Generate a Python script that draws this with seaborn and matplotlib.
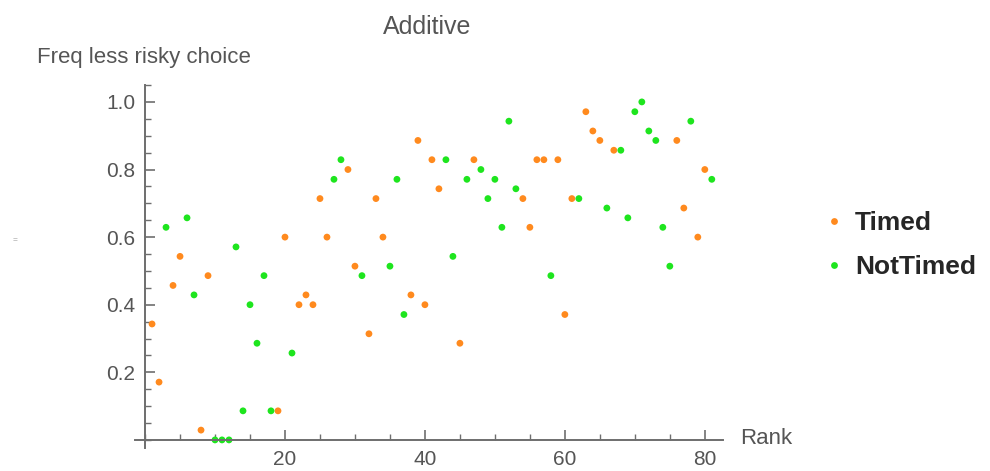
import numpy as np
import pandas as pd
import seaborn as sns
import matplotlib.pyplot as plt
from matplotlib.ticker import MultipleLocator

# rank / frequency of the less risky choice
timed_rank = [1, 2, 4, 5, 8, 9, 19, 20, 22, 23, 24, 25, 26, 29, 30, 32, 33, 34, 38, 39,
              40, 41, 42, 45, 47, 54, 55, 56, 57, 59, 60, 61, 63, 64, 65, 67, 76, 77, 79, 80]
timed_freq = [0.343, 0.171, 0.457, 0.543, 0.029, 0.486, 0.086, 0.6, 0.4, 0.429, 0.4, 0.714,
              0.6, 0.8, 0.514, 0.314, 0.714, 0.6, 0.429, 0.886, 0.4, 0.829, 0.743, 0.286,
              0.829, 0.714, 0.629, 0.829, 0.829, 0.829, 0.371, 0.714, 0.971, 0.914, 0.886,
              0.857, 0.886, 0.686, 0.6, 0.8]

nottimed_rank = [3, 6, 7, 10, 11, 12, 13, 14, 15, 16, 17, 18, 21, 27, 28, 31, 35, 36, 37, 43,
                 44, 46, 48, 49, 50, 51, 52, 53, 58, 62, 66, 68, 69, 70, 71, 72, 73, 74, 75,
                 78, 81]
nottimed_freq = [0.629, 0.657, 0.429, 0.0, 0.0, 0.0, 0.571, 0.086, 0.4, 0.286, 0.486, 0.086,
                 0.257, 0.771, 0.829, 0.486, 0.514, 0.771, 0.371, 0.829, 0.543, 0.771, 0.8,
                 0.714, 0.771, 0.629, 0.943, 0.743, 0.486, 0.714, 0.686, 0.857, 0.657, 0.971,
                 1.0, 0.914, 0.886, 0.629, 0.514, 0.943, 0.771]

groups = ['Timed', 'NotTimed']
colors = {'Timed': '#FF8A1E', 'NotTimed': '#1EE51E'}

df = pd.concat([
    pd.DataFrame({'Rank': timed_rank, 'Freq': timed_freq, 'Group': 'Timed'}),
    pd.DataFrame({'Rank': nottimed_rank, 'Freq': nottimed_freq, 'Group': 'NotTimed'}),
])

sns.set_style('white')
plt.rcParams['font.family'] = ['Liberation Sans', 'DejaVu Sans']

fig = plt.figure(figsize=(9.9, 4.71), dpi=100)
ax = fig.add_axes([0.1364, 0.0488, 0.5939, 0.7707])

sns.scatterplot(data=df, x='Rank', y='Freq', hue='Group', hue_order=groups,
                palette=colors, s=24, linewidth=0, ax=ax)

ax.set_xlim(-1.43, 82.6)
ax.set_ylim(-0.024, 1.05)

axis_col = '#6E6E6E'
for side in ['top', 'right']:
    ax.spines[side].set_visible(False)
for side in ['left', 'bottom']:
    ax.spines[side].set_position(('data', 0))
    ax.spines[side].set_color(axis_col)
    ax.spines[side].set_linewidth(1.4)

ax.xaxis.set_major_locator(MultipleLocator(20))
ax.xaxis.set_minor_locator(MultipleLocator(5))
ax.yaxis.set_major_locator(MultipleLocator(0.2))
ax.yaxis.set_minor_locator(MultipleLocator(0.05))
ax.set_xticks([20, 40, 60, 80])
ax.set_yticks([0.2, 0.4, 0.6, 0.8, 1.0])
ax.set_yticklabels(['0.2', '0.4', '0.6', '0.8', '1.0'])
ax.tick_params(which='both', direction='in', color=axis_col, labelcolor='#555555',
               labelsize=15, bottom=True, left=True)
ax.tick_params(which='major', length=7, width=1.2, pad=7)
ax.tick_params(which='minor', length=4, width=1.0)
ax.set_xlabel('')
ax.set_ylabel('')

fig.text(427 / 990, 1 - 27 / 471, 'Additive', ha='center', va='center',
         fontsize=18, color='#555555')
fig.text(37 / 990, 1 - 57 / 471, 'Freq less risky choice', ha='left', va='center',
         fontsize=16, color='#555555')
fig.text(740 / 990, 1 - 438 / 471, 'Rank', ha='left', va='center',
         fontsize=16, color='#555555')
fig.text(15 / 990, 1 - 241 / 471, '=', ha='center', va='center',
         fontsize=6, color='#999999')

handles, labels = ax.get_legend_handles_labels()
ax.legend(handles, labels, loc='center left', bbox_to_anchor=(797 / 990, 1 - 245 / 471),
          bbox_transform=fig.transFigure, frameon=False, markerscale=1.0,
          handletextpad=0.3, labelspacing=0.75, handlelength=1.0,
          prop={'weight': 'bold', 'size': 19})

fig.savefig('out.png', dpi=100)
